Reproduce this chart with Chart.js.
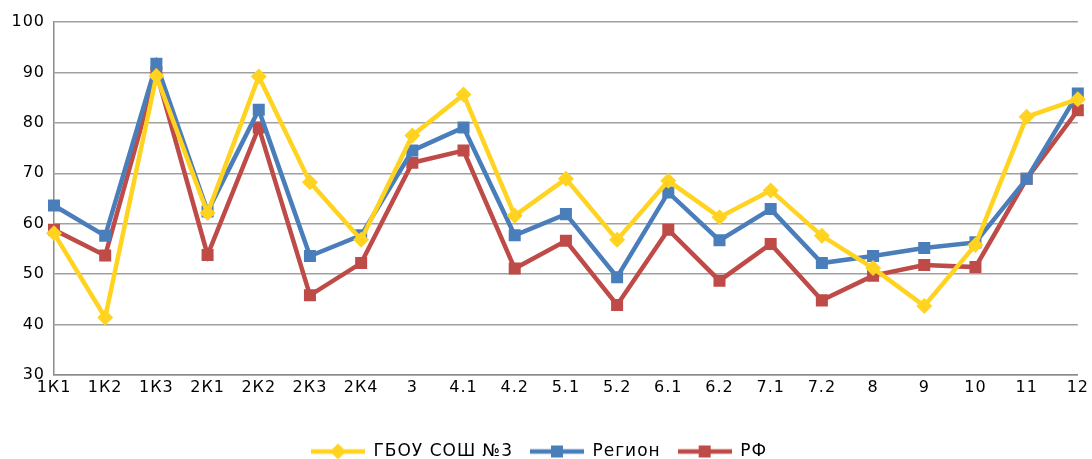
<!DOCTYPE html>
<html>
<head>
<meta charset="utf-8">
<script src="https://cdn.jsdelivr.net/npm/chart.js@4/dist/chart.umd.min.js"></script>
<style>
    html, body { margin: 0; padding: 0; background: #fff; }
    #wrap { width: 1092px; height: 459px; }
</style>
</head>
<body>
<div id="wrap"><canvas id="chart"></canvas></div>
<script>
var labels = ['1К1', '1К2', '1К3', '2К1', '2К2', '2К3', '2К4', '3', '4.1', '4.2', '5.1',
    '5.2', '6.1', '6.2', '7.1', '7.2', '8', '9', '10', '11', '12']

var school = [58.1, 41.4, 89.3, 62.1, 89.2, 68.2, 56.8, 77.5, 85.6, 61.6, 68.9,
    56.8, 68.5, 61.3, 66.6, 57.6, 51.2, 43.7, 55.8, 81.2, 84.7]
var region = [63.6, 57.6, 91.7, 62.4, 82.6, 53.6, 57.7, 74.5, 79.1, 57.7, 61.9,
    49.4, 66.2, 56.7, 62.9, 52.2, 53.6, 55.2, 56.3, 68.9, 85.8]
var rf = [58.8, 53.7, 90.0, 53.8, 79.1, 45.8, 52.2, 72.1, 74.5, 51.1, 56.6,
    43.9, 58.8, 48.7, 56.0, 44.8, 49.7, 51.8, 51.4, 68.9, 82.5]

var seriesNames = ['ГБОУ СОШ №3', 'Регион', 'РФ']
var yTicks = [30, 40, 50, 60, 70, 80, 90, 100]

var YELLOW = '#FFD320'
var BLUE = '#4A7EBB'
var RED = '#BE4B48'

// small picture for legend: line with marker in the middle
function legendIcon(color, style) {
    var c = document.createElement('canvas')
    c.width = 54
    c.height = 18
    var g = c.getContext('2d')
    g.strokeStyle = color
    g.lineWidth = 4.5
    g.beginPath()
    g.moveTo(0, 9)
    g.lineTo(54, 9)
    g.stroke()
    g.fillStyle = color
    g.beginPath()
    if (style == 'diamond') {
        g.moveTo(27, 1)
        g.lineTo(35, 9)
        g.lineTo(27, 17)
        g.lineTo(19, 9)
    } else {
        g.rect(21, 3, 12, 12)
    }
    g.fill()
    return c
}

function dataset(name, values, color, style, radius) {
    return {
        label: name,
        data: values,
        borderColor: color,
        backgroundColor: color,
        borderWidth: 4.5,
        pointStyle: style,
        pointRadius: radius,
        pointHoverRadius: radius,
        pointBorderWidth: 0,
        tension: 0,
        icon: legendIcon(color, style == 'rectRot' ? 'diamond' : 'rect'),
    }
}

var spacing = {
    id: 'spacing',
    beforeLayout(chart) {
        chart.ctx.letterSpacing = '1px'
    },
    afterLayout(chart) {
        // push the legend row down to sit near the bottom edge
        chart.legend.top += 11
        chart.legend.bottom += 11
    },
}

new Chart(document.getElementById('chart'), {
    type: 'line',
    data: {
        labels: labels,
        datasets: [
            dataset(seriesNames[0], school, YELLOW, 'rectRot', 8),
            dataset(seriesNames[1], region, BLUE, 'rect', 8.5),
            dataset(seriesNames[2], rf, RED, 'rect', 8.5),
        ],
    },
    options: {
        responsive: true,
        maintainAspectRatio: false,
        animation: false,
        layout: {
            padding: {top: 22, right: 14, left: 0, bottom: 0},
        },
        plugins: {
            tooltip: {enabled: false},
            legend: {
                position: 'bottom',
                labels: {
                    usePointStyle: true,
                    pointStyleWidth: 54,
                    padding: 17,
                    color: '#000',
                    font: {family: 'DejaVu Sans', size: 17},
                    generateLabels: function(chart) {
                        return chart.data.datasets.map(function(ds, i) {
                            return {
                                text: ds.label,
                                pointStyle: ds.icon,
                                fillStyle: ds.borderColor,
                                strokeStyle: ds.borderColor,
                                lineWidth: 0,
                                datasetIndex: i,
                                hidden: false,
                            }
                        })
                    },
                },
            },
        },
        scales: {
            x: {
                offset: false,
                grid: {display: false, drawTicks: false},
                border: {display: true, color: '#8c8c8c', width: 1.5},
                ticks: {
                    color: '#000',
                    padding: 3,
                    maxRotation: 0,
                    autoSkip: false,
                    font: {family: 'DejaVu Sans', size: 16},
                },
                afterFit: function(scale) {
                    scale.height = 40
                },
            },
            y: {
                min: 30,
                max: 100,
                grid: {color: '#a0a0a0', lineWidth: 1.5, drawTicks: false},
                border: {display: true, color: '#8c8c8c', width: 1.5},
                afterBuildTicks: function(scale) {
                    scale.ticks = yTicks.map(function(v) { return {value: v} })
                },
                ticks: {
                    color: '#000',
                    padding: 9,
                    font: {family: 'DejaVu Sans', size: 16},
                },
                afterFit: function(scale) {
                    scale.width = 54
                },
            },
        },
    },
    plugins: [spacing],
})
</script>
</body>
</html>
